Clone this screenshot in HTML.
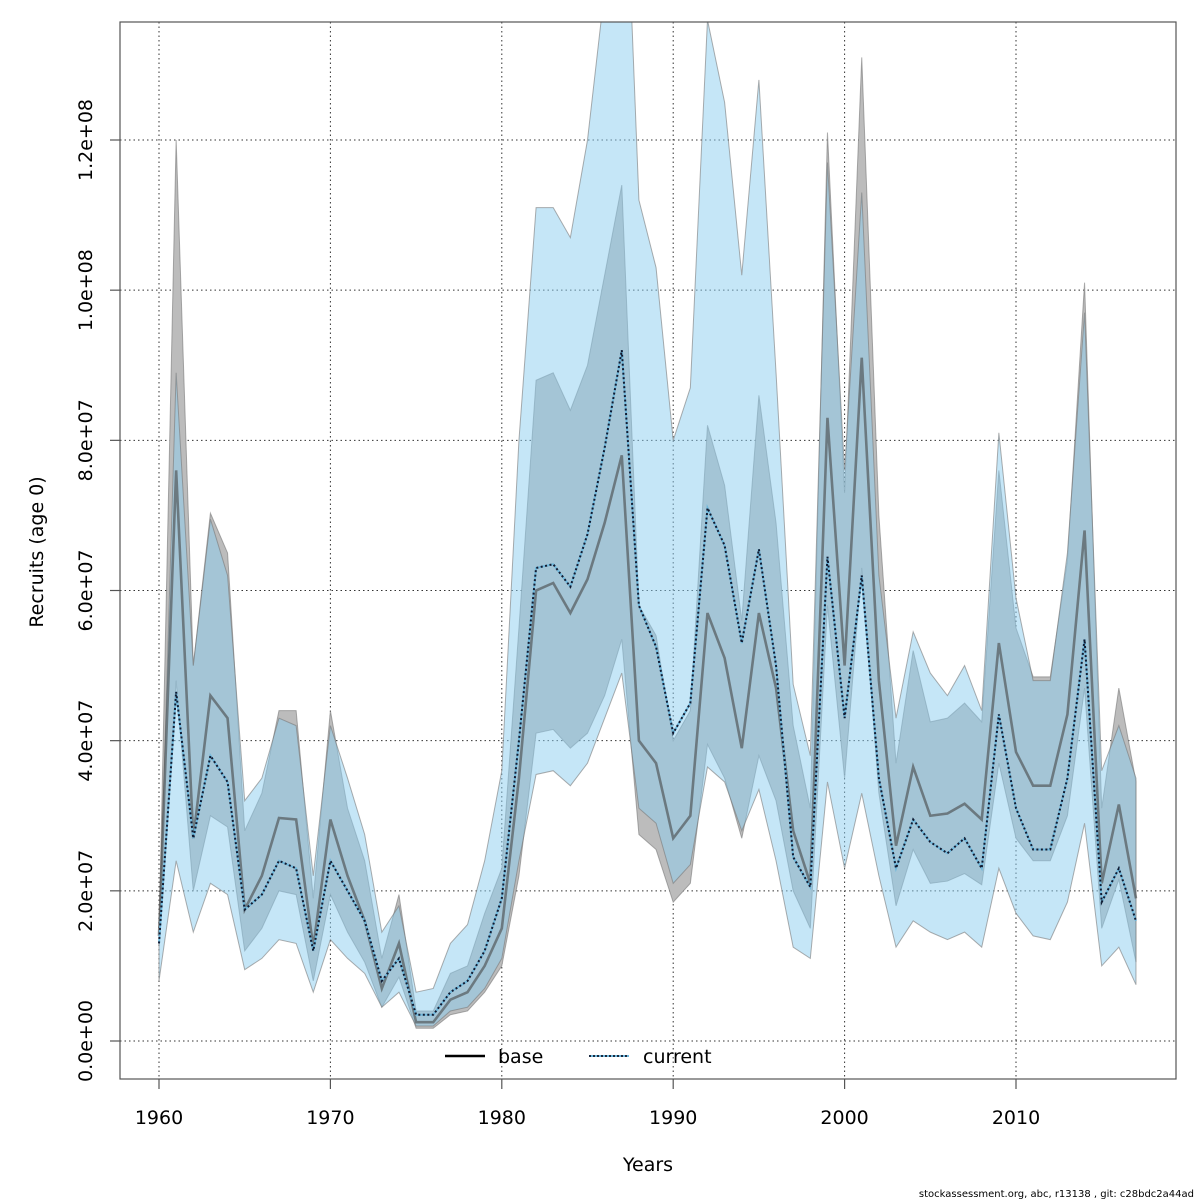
<!DOCTYPE html>
<html><head><meta charset="utf-8"><style>
html,body{margin:0;padding:0;background:#fff;}
svg{display:block;font-family:"DejaVu Sans","Liberation Sans",sans-serif;}
</style></head><body>
<svg id="chart" width="1200" height="1200" viewBox="0 0 1200 1200" xmlns="http://www.w3.org/2000/svg">
<defs><clipPath id="clip"><rect x="120" y="22" width="1056" height="1057"/></clipPath></defs>
<g id="grid"></g>
<g id="bands" clip-path="url(#clip)"></g>
<g id="lines" clip-path="url(#clip)"></g>
<rect x="120" y="22" width="1056" height="1057" fill="none" stroke="#555" stroke-width="1.2"/>
<g id="axes"></g>
<text x="648" y="1171" font-size="19" text-anchor="middle">Years</text>
<text x="0" y="0" font-size="19" text-anchor="middle" transform="translate(43,552) rotate(-90)">Recruits (age 0)</text>
<g>
<line x1="445" y1="1056" x2="485" y2="1056" stroke="#000" stroke-width="2.5"/>
<text x="498" y="1063" font-size="19">base</text>
<line x1="589" y1="1056" x2="629" y2="1056" stroke="#6fb8dc" stroke-width="2"/>
<line x1="589" y1="1056" x2="629" y2="1056" stroke="#1a2a40" stroke-width="2" stroke-dasharray="2,2"/>
<text x="643" y="1063" font-size="19">current</text>
</g>
<text x="1194" y="1197" font-size="10" text-anchor="end">stockassessment.org, abc, r13138 , git: c28bdc2a44ad</text>
</svg>
<script>
const years=[1960,1961,1962,1963,1964,1965,1966,1967,1968,1969,1970,1971,1972,1973,1974,1975,1976,1977,1978,1979,1980,1981,1982,1983,1984,1985,1986,1987,1988,1989,1990,1991,1992,1993,1994,1995,1996,1997,1998,1999,2000,2001,2002,2003,2004,2005,2006,2007,2008,2009,2010,2011,2012,2013,2014,2015,2016,2017];
const baseMed=[14,76,27,46,43,17.5,22,29.7,29.5,12.5,29.5,22,16,7,13,2.5,2.5,5.5,6.5,10,15,35,60,61,57,61.5,69,78,40,37,27,30,57,51,39,57,47,28,21,83,50,91,48,26,36.5,30,30.3,31.6,29.5,53,38.5,34,34,43.5,68,21,31.5,19];
const baseLow=[13,48,20,30,28.5,12,15,20,19.5,8,19.5,14.5,10.5,4.5,8.5,1.7,1.7,3.5,4,6.5,10,22,41,41.5,39,41,46,53.5,27.5,25.5,18.5,21,39.5,35,27,38,32,20,15,58,35,63,33,18,25.5,21,21.3,22.3,20.8,37,27,24,24,30,47,15,21.5,10.5];
const baseHigh=[14,120,50,70.3,65,28,33,44,44,19,44,31,24,11,19.5,4,4,9,10,17,23,55,88,89,84,90,102,114,58,54,40,44,82,74,56,86,69,42,31,121,73,131,70,37,52,42.5,43,45,42.5,76,55,48.5,48.5,64,101,31,47,34.5];
const curMed=[13,46.5,27,38,34.5,17.5,19.5,24,23,12,24,20,16,8,11,3.5,3.5,6.5,8,12,19,40,63,63.5,60.5,67.5,79,92,58,52.5,41,45,71,66,53,65.5,50,24.5,20.5,64.5,43,62,35,23,29.5,26.5,25,27,23,43.5,31,25.5,25.5,35,53.5,18.5,23,16];
const curLow=[8,24,14.5,21,19.5,9.5,11,13.5,13,6.5,13.5,11,9,4.5,6.5,2,2,4,4.5,7,11,24,35.5,36,34,37,43,49,31,29,21,23.5,36.5,34.5,28,33.5,24,12.5,11,34.5,23,33,22,12.5,16,14.5,13.5,14.5,12.5,23,17,14,13.5,18.5,29,10,12.5,7.5];
const curHigh=[13,89,50,69.5,62,32,35,43,42,22,42,35,27.5,14.5,18,6.5,7,13,15.5,24,36,80,111,111,107,120,140,170,112,103,80,87,136,125,102,128,89,47.5,38,117,76,113,62,43,54.5,49,46,50,44,81,59,48,48,65,97,36,42,35];
const xTicks=[1960,1970,1980,1990,2000,2010];
const yTicks=[0,20,40,60,80,100,120];
const yTickLabels=["0.0e+00","2.0e+07","4.0e+07","6.0e+07","8.0e+07","1.0e+08","1.2e+08"];

const NS="http://www.w3.org/2000/svg";
function X(yr){return 159+(yr-1960)*(1016-159)/50;}
function Y(v){return 1041-v*(1041-140)/120;}
function mk(tag,attrs,parent){const e=document.createElementNS(NS,tag);for(const k in attrs)e.setAttribute(k,attrs[k]);parent.appendChild(e);return e;}
const grid=document.getElementById('grid'),bands=document.getElementById('bands'),lines=document.getElementById('lines'),axes=document.getElementById('axes');

xTicks.forEach(t=>{
  const g=mk('line',{x1:X(t),x2:X(t),y1:22,y2:1079,stroke:'#333','stroke-width':1,'stroke-dasharray':'1.5,3'},grid);
  
  
  const tk=mk('line',{x1:X(t),x2:X(t),y1:1079,y2:1089,stroke:'#555','stroke-width':1.2},axes);
  
  
  const tx=mk('text',{x:X(t),y:1124,'font-size':19,'text-anchor':'middle'},axes);
  tx.textContent=t;
  
  
});
yTicks.forEach((t,i)=>{
  const g=mk('line',{x1:120,x2:1176,y1:Y(t),y2:Y(t),stroke:'#333','stroke-width':1,'stroke-dasharray':'1.5,3'},grid);
  
  
  const tk=mk('line',{x1:110,x2:120,y1:Y(t),y2:Y(t),stroke:'#555','stroke-width':1.2},axes);
  
  
  const tx=mk('text',{x:0,y:0,'font-size':19,'text-anchor':'middle',transform:`translate(92,${Y(t)}) rotate(-90)`},axes);
  tx.textContent=yTickLabels[i];
  
  
});
function band(lo,hi,fill,name){
  let d='M'+years.map((y,i)=>X(y)+','+Y(hi[i])).join('L');
  for(let i=years.length-1;i>=0;i--)d+='L'+X(years[i])+','+Y(lo[i]);
  d+='Z';
  const p=mk('path',{d:d,fill:fill,stroke:'rgba(120,120,120,0.6)','stroke-width':1},bands);
  
  
}
band(baseLow,baseHigh,'#bcbcbc','base-confidence-band');
band(curLow,curHigh,'rgba(140,205,240,0.5)','current-confidence-band');
function line(vals,attrs,name){
  const d='M'+years.map((y,i)=>X(y)+','+Y(vals[i])).join('L');
  const p=mk('path',Object.assign({d:d,fill:'none'},attrs),lines);
  
  
}
line(baseMed,{stroke:'rgba(70,70,70,0.6)','stroke-width':2.6},'base-line');
line(curMed,{stroke:'#6fb8dc','stroke-width':2},'current-line-bg');
line(curMed,{stroke:'#111a30','stroke-width':2,'stroke-dasharray':'2,2.5'},'current-line');
</script>
</body></html>
